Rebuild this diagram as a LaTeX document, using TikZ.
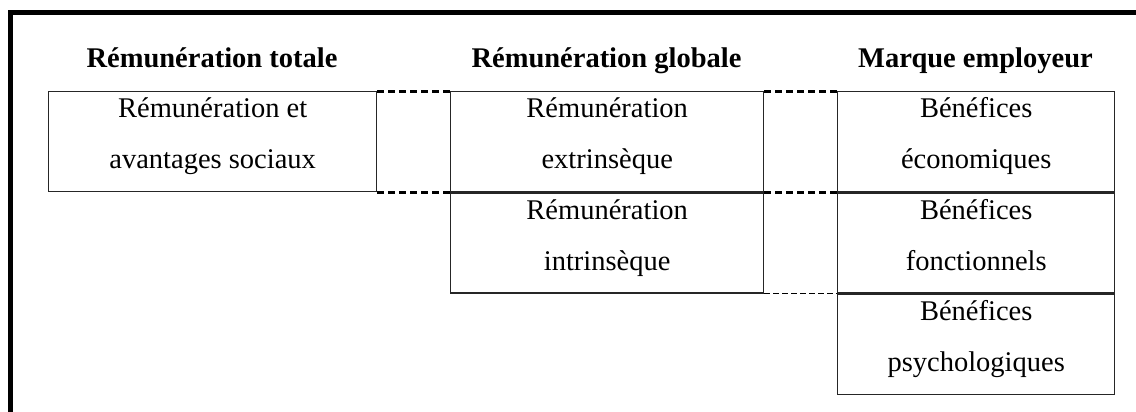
\documentclass[tikz,border=0pt]{standalone}
\usepackage{fontspec}
\setmainfont{Liberation Serif}
\tikzset{
  cell/.style={draw=black!85, line width=0.7pt, inner sep=0pt, anchor=north west,
    align=center, font={\fontsize{14.25}{25.5}\selectfont}},
  title/.style={anchor=base, inner sep=0pt, font={\fontsize{14.25}{17}\selectfont\bfseries}},
  thickdot/.style={line width=1.5pt, dash pattern=on 3.5pt off 2pt},
  thindash/.style={line width=0.5pt, dash pattern=on 3pt off 1.5pt},
}
\newcommand{\celltext}[2]{\rule{0pt}{13pt}#1\\#2\rule[-11.5pt]{0pt}{11.5pt}}
\begin{document}
\begin{tikzpicture}[x=0.5pt,y=-0.5pt]
\useasboundingbox (0,0) rectangle (1136,412);
\clip (0,0) rectangle (1136,412);
\fill[white] (0,0) rectangle (1136,412);
\draw[line width=2.4pt] (10.5,460) -- (10.5,12.5) -- (1180,12.5);

\node[title] (t1) at (212,68) {Rémunération totale};
\node[title] (t2) at (606.5,68) {Rémunération globale};
\node[title] (t3) at (975.5,68) {Marque employeur};

\node[cell, minimum width=164pt] (b1) at (48,91) {\celltext{Rémunération et}{avantages sociaux}};
\node[cell, minimum width=156.5pt] (b2a) at (450,91) {\celltext{Rémunération}{extrinsèque}};
\node[cell, minimum width=156.5pt, anchor=north west] (b2b) at (b2a.south west) {\celltext{Rémunération}{intrinsèque}};
\node[cell, minimum width=138.5pt] (b3a) at (837,91) {\celltext{Bénéfices}{économiques}};
\node[cell, minimum width=138.5pt, anchor=north west] (b3b) at (b3a.south west) {\celltext{Bénéfices}{fonctionnels}};
\node[cell, minimum width=138.5pt, anchor=north west] (b3c) at (b3b.south west) {\celltext{Bénéfices}{psychologiques}};

\draw[thickdot] (b1.north east) -- (b2a.north west);
\draw[thickdot] (b1.south east) -- (b2a.south west);
\draw[thickdot] (b2a.north east) -- (b3a.north west);
\draw[thickdot] (b2a.south east) -- (b3a.south west);
\draw[thindash] (b2b.south east) -- (b3b.south west);
\end{tikzpicture}
\end{document}
